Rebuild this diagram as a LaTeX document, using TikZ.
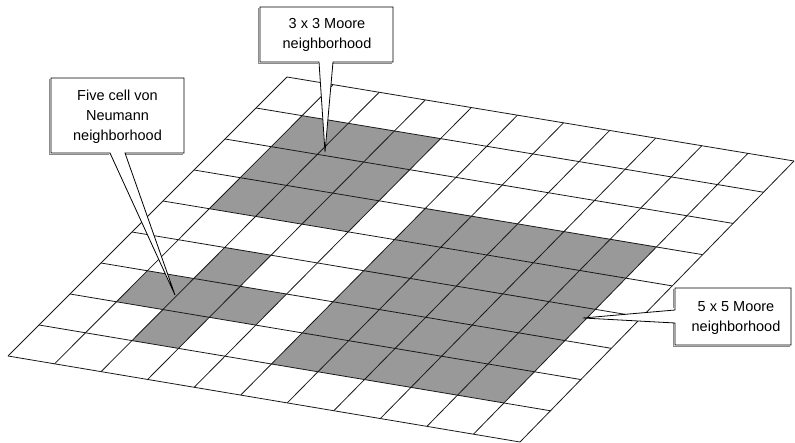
\documentclass[tikz,border=0pt]{standalone}
\usepackage{fontspec}
\setmainfont{Liberation Sans}
% fill a rectangular block of cells, columns #1..#3, rows #2..#4
\newcommand\cellblock[4]{%
  \fill[cellfill] ({gx(#1,#2)},{gy(#1,#2)}) -- ({gx(#3,#2)},{gy(#3,#2)})
    -- ({gx(#3,#4)},{gy(#3,#4)}) -- ({gx(#1,#4)},{gy(#1,#4)}) -- cycle;}
\begin{document}
\begin{tikzpicture}[x=1pt,y=-1pt,
  % bilinear map of the 11 x 9 cell sheet seen in perspective
  declare function={
    gx(\cc,\rr)=(1-\rr/9)*(287+\cc/11*507)+\rr/9*(8+\cc/11*512);
    gy(\cc,\rr)=(1-\rr/9)*(77+\cc/11*84)+\rr/9*(356+\cc/11*86);
  },
  cellfill/.style={fill=black!40},
  gridline/.style={line width=0.8pt, black!90},
  calloutbox/.style={draw=black, line width=0.8pt, fill=white, line join=miter},
  calloutshade/.style={draw=black!45, line width=0.9pt},
  labeltext/.style={align=center, font=\fontsize{14.5}{20}\selectfont, inner sep=0pt}
]
\useasboundingbox (0,0) rectangle (795,443);

% shaded neighbourhoods
\cellblock{1}{1}{4}{4}   % 3 x 3 Moore
\cellblock{2}{5}{3}{6}   % von Neumann cross
\cellblock{1}{6}{4}{7}
\cellblock{2}{7}{3}{8}
\cellblock{5}{3}{10}{8}  % 5 x 5 Moore

% cell grid
\foreach \i in {0,...,11}
  \draw[gridline] ({gx(\i,0)},{gy(\i,0)}) -- ({gx(\i,9)},{gy(\i,9)});
\foreach \j in {0,...,9}
  \draw[gridline] ({gx(0,\j)},{gy(0,\j)}) -- ({gx(11,\j)},{gy(11,\j)});

% pointer tips
\coordinate (vnTip) at (175,295);
\coordinate (m3Tip) at (325,152);
\coordinate (m5Tip) at (583,318);

% von Neumann callout
\draw[calloutshade] (49.5,79.5) -- (49.5,154.5) -- (108.5,154.5)
  (123.5,154.5) -- (182.5,154.5);
\draw[calloutbox] (51,78) -- (184,78) -- (184,153) -- (125,153) -- (vnTip)
  -- (110,153) -- (51,153) -- cycle;
\node[labeltext] (vnLabel) at (117.5,117) {Five cell von\\Neumann\\neighborhood};

% 3 x 3 Moore callout
\draw[calloutshade] (258.5,8.5) -- (258.5,63.5) -- (317.5,63.5)
  (331.5,63.5) -- (391.5,63.5);
\draw[calloutbox] (260,7) -- (393,7) -- (393,62) -- (333,62) -- (m3Tip)
  -- (319,62) -- (260,62) -- cycle;
\node[labeltext] (m3Label) at (327,34.5) {3 x 3 Moore\\neighborhood};

% 5 x 5 Moore callout
\draw[calloutshade] (673.5,289.5) -- (673.5,308.5)
  (673.5,321.5) -- (673.5,346.5) -- (789.5,346.5);
\draw[calloutbox] (675,310) -- (675,288) -- (791,288) -- (791,345)
  -- (675,345) -- (675,323) -- (m5Tip) -- cycle;
\node[labeltext] (m5Label) at (736,318) {5 x 5 Moore\\neighborhood};
\end{tikzpicture}
\end{document}
